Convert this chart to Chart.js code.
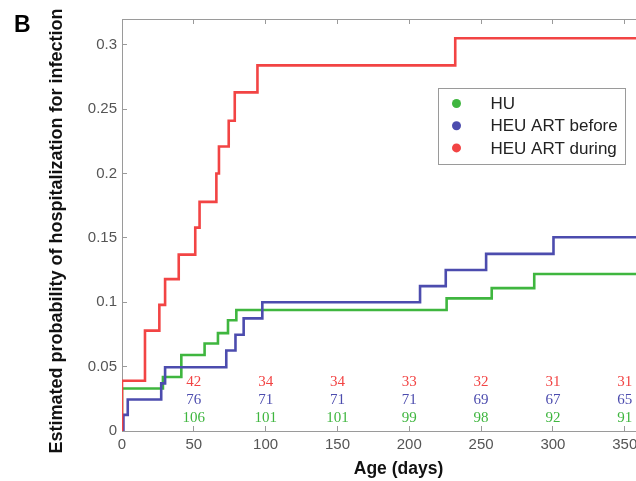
<!DOCTYPE html>
<html>
<head>
<meta charset="utf-8">
<script src="https://cdn.jsdelivr.net/npm/chart.js@4/dist/chart.umd.min.js"></script>
<style>
  html, body { margin: 0; padding: 0; background: #fff; overflow: hidden; }
  #wrap { width: 636px; height: 481px; overflow: hidden; }
</style>
</head>
<body>
<div id="wrap"><canvas id="km" width="680" height="481"></canvas></div>
<script>
// Kaplan-Meier steps (days, cumulative probability)
const huDays = [0, 0, 28.5, 41.3, 57.5, 66.8, 73.8, 79.6, 226, 257.4, 287, 385];
const huProb = [0, 0.033, 0.042, 0.059, 0.068, 0.076, 0.086, 0.094, 0.103, 0.111, 0.122, 0.122];

const beforeDays = [0, 1, 4, 27.3, 30, 72.6, 79, 84.7, 97.7, 207.5, 225.4, 253.5, 300.4, 385];
const beforeProb = [0, 0.0125, 0.0245, 0.037, 0.0495, 0.0625, 0.0747, 0.0875, 0.1, 0.1125, 0.125, 0.1376, 0.1505, 0.1505];

const duringDays = [0, 0, 16, 26, 30, 39.5, 51, 54, 65.7, 67.5, 74.3, 78.5, 94.3, 232, 385];
const duringProb = [0, 0.039, 0.078, 0.098, 0.118, 0.137, 0.158, 0.178, 0.2, 0.221, 0.241, 0.263, 0.284, 0.305, 0.305];

// numbers at risk
const riskDays = [50, 100, 150, 200, 250, 300, 350];
const riskDuring = [42, 34, 34, 33, 32, 31, 31];
const riskBefore = [76, 71, 71, 71, 69, 67, 65];
const riskHU = [106, 101, 101, 99, 98, 92, 91];

const seriesNames = ['HU', 'HEU ART before', 'HEU ART during'];
const yTitle = 'Estimated probability of hospitalization for infection';

const GREEN = '#3fb63f';
const BLUE = '#4c4cae';
const RED = '#f24444';
const AXIS = '#9a9a9a';
const SANS = '"Liberation Sans", Arial, sans-serif';

function pts(xs, ys) {
  return xs.map((x, i) => ({ x, y: ys[i] }));
}

const extras = {
  id: 'extras',
  afterDraw(chart) {
    const { ctx, chartArea } = chart;
    const xs = chart.scales.x;
    ctx.save();

    // panel letter
    ctx.fillStyle = '#000';
    ctx.font = 'bold 23px ' + SANS;
    ctx.textAlign = 'left';
    ctx.textBaseline = 'alphabetic';
    ctx.fillText('B', 14, 32);

    // y axis title (sits a bit below the axis centre in the original)
    ctx.save();
    ctx.translate(57, 231);
    ctx.rotate(-Math.PI / 2);
    ctx.font = 'bold 18px ' + SANS;
    ctx.fillStyle = '#111';
    ctx.textAlign = 'center';
    ctx.textBaseline = 'middle';
    ctx.fillText(yTitle, 0, 0);
    ctx.restore();

    // numbers at risk
    ctx.font = '15px "Liberation Serif", "Times New Roman", serif';
    ctx.textAlign = 'center';
    ctx.textBaseline = 'middle';
    const rows = [[riskDuring, RED, 49], [riskBefore, BLUE, 31], [riskHU, GREEN, 12.5]];
    rows.forEach(([vals, col, off]) => {
      ctx.fillStyle = col;
      vals.forEach((v, i) => {
        ctx.fillText(String(v), xs.getPixelForValue(riskDays[i]), chartArea.bottom - off);
      });
    });

    // legend box
    const bx = 438.5, by = 88.5, bw = 187, bh = 76;
    ctx.strokeStyle = AXIS;
    ctx.lineWidth = 1;
    ctx.strokeRect(bx, by, bw, bh);
    const cols = [GREEN, BLUE, RED];
    ctx.font = '17px ' + SANS;
    ctx.textAlign = 'left';
    seriesNames.forEach((name, i) => {
      const y = 103.5 + i * 22.2;
      ctx.fillStyle = cols[i];
      ctx.beginPath();
      ctx.arc(456.5, y, 4.5, 0, Math.PI * 2);
      ctx.fill();
      ctx.fillStyle = '#222';
      ctx.fillText(name, 490.5, y + 1);
    });

    ctx.restore();
  }
};

const lineStyle = { borderWidth: 2.6, pointRadius: 0, stepped: 'before', fill: false, tension: 0 };

new Chart(document.getElementById('km'), {
  type: 'line',
  data: {
    datasets: [
      { label: seriesNames[2], data: pts(duringDays, duringProb), borderColor: RED, order: 0, ...lineStyle },
      { label: seriesNames[1], data: pts(beforeDays, beforeProb), borderColor: BLUE, order: 1, ...lineStyle },
      { label: seriesNames[0], data: pts(huDays, huProb), borderColor: GREEN, order: 2, ...lineStyle }
    ]
  },
  options: {
    responsive: false,
    animation: false,
    layout: { padding: { left: 0, right: 5, top: 0, bottom: 0 } },
    plugins: { legend: { display: false }, tooltip: { enabled: false } },
    scales: {
      x: {
        type: 'linear',
        position: 'bottom',
        min: 0,
        max: 385,
        afterFit(s) { s.height = 50; },
        border: { display: true, color: AXIS, width: 1 },
        grid: { drawOnChartArea: false, drawTicks: true, tickLength: -5, color: AXIS },
        ticks: {
          stepSize: 50, includeBounds: false, padding: 10, maxRotation: 0,
          color: '#555', font: { family: SANS, size: 15 }
        },
        title: {
          display: true, text: 'Age (days)', color: '#111',
          font: { family: SANS, size: 17.5, weight: 'bold' },
          padding: { top: 0, bottom: 1 }
        }
      },
      xTop: {
        type: 'linear',
        position: 'top',
        min: 0,
        max: 385,
        afterFit(s) { s.height = 18; },
        border: { display: true, color: AXIS, width: 1 },
        grid: { drawOnChartArea: false, drawTicks: true, tickLength: -5, color: AXIS },
        ticks: { display: false, stepSize: 50, includeBounds: false }
      },
      y: {
        type: 'linear',
        position: 'left',
        min: 0,
        max: 0.32,
        afterFit(s) { s.width = 122; },
        border: { display: true, color: AXIS, width: 1 },
        grid: { drawOnChartArea: false, drawTicks: true, tickLength: -5, color: AXIS },
        ticks: {
          stepSize: 0.05, includeBounds: false, padding: 10,
          color: '#555', font: { family: SANS, size: 15 },
          callback: v => String(+v.toFixed(2))
        }
      }
    }
  },
  plugins: [extras]
});
</script>
</body>
</html>
